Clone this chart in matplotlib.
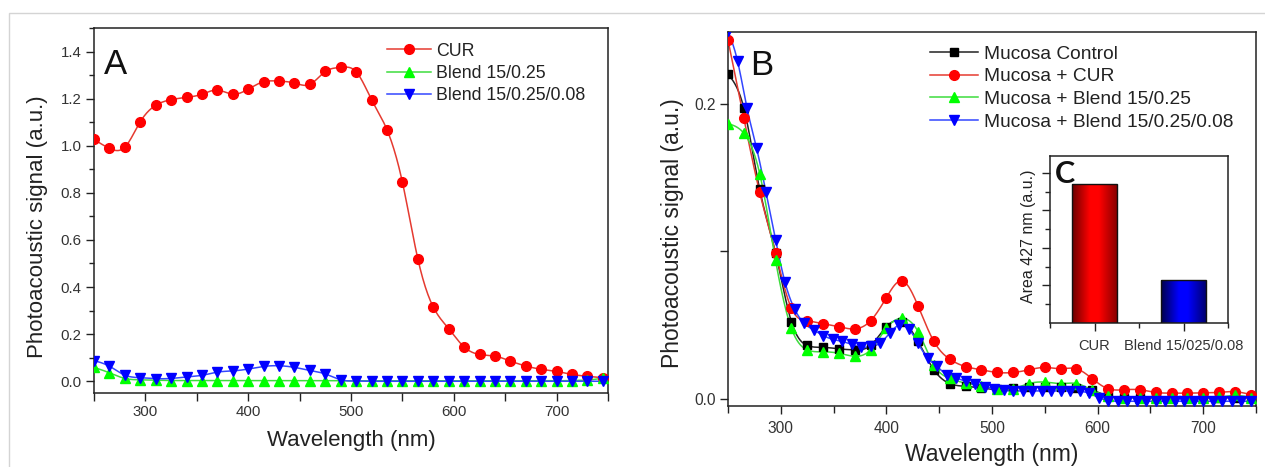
import numpy as np
import matplotlib
matplotlib.use("Agg")
import matplotlib.pyplot as plt
from matplotlib.colors import LinearSegmentedColormap
from matplotlib.patches import Rectangle

plt.rcParams['font.family'] = ['Liberation Sans', 'DejaVu Sans']

# ---------------------------------------------------
# Daten Panel A (Pulver)
# ---------------------------------------------------
wl_a = list(range(250, 750, 15))

cur_a = [1.028, 0.990, 0.995, 1.103, 1.173, 1.197, 1.207, 1.220, 1.238, 1.220,
         1.242, 1.273, 1.276, 1.268, 1.262, 1.317, 1.334, 1.316, 1.197, 1.069,
         0.846, 0.520, 0.315, 0.223, 0.145, 0.113, 0.106, 0.085, 0.064, 0.050,
         0.041, 0.028, 0.020, 0.014]

blend_a = [0.058, 0.035, 0.011, 0.005, 0.003, 0.002, 0.002, 0.002, 0.002, 0.002,
           0.002, 0.002, 0.002, 0.002, 0.002, 0.002, 0.001, 0.001, 0.001, 0.001,
           0.001, 0.001, 0.001, 0.001, 0.001, 0.001, 0.001, 0.001, 0.001, 0.001,
           0.001, 0.002, 0.004, 0.012]

blend_np_a = [0.087, 0.063, 0.025, 0.014, 0.010, 0.011, 0.017, 0.024, 0.038, 0.043,
              0.051, 0.062, 0.065, 0.058, 0.045, 0.030, 0.005, 0.000, -0.001, -0.001,
              -0.001, -0.001, -0.001, -0.001, -0.001, -0.001, -0.001, -0.001, -0.001, -0.001,
              -0.001, -0.001, -0.001, -0.001]

# ---------------------------------------------------
# Daten Panel B (Mukosa)
# ---------------------------------------------------
wl_b = list(range(250, 750, 15))
wl_b_blue = list(range(250, 750, 9))

muc_ctrl = [0.220, 0.197, 0.142, 0.099, 0.0525, 0.0363, 0.035, 0.034, 0.0333, 0.0363,
            0.049, 0.0525, 0.039, 0.0198, 0.0105, 0.0086, 0.0075, 0.0065, 0.0075, 0.008,
            0.008, 0.008, 0.0075, 0.006, 0.002, 0.001, 0.001, 0.0008, 0.0008, 0.0008,
            0.0008, 0.0008, 0.001, 0.0008]

muc_cur = [0.243, 0.190, 0.140, 0.099, 0.0615, 0.053, 0.051, 0.049, 0.0475, 0.053,
           0.0687, 0.080, 0.063, 0.039, 0.027, 0.022, 0.0198, 0.018, 0.018, 0.0198,
           0.0214, 0.0205, 0.0205, 0.0137, 0.007, 0.0063, 0.0063, 0.0045, 0.004, 0.004,
           0.0042, 0.0045, 0.005, 0.003]

muc_blend = [0.1865, 0.180, 0.1527, 0.094, 0.048, 0.0333, 0.032, 0.031, 0.029, 0.0333,
             0.048, 0.0547, 0.0457, 0.023, 0.014, 0.0108, 0.009, 0.0065, 0.007, 0.0105,
             0.0115, 0.0105, 0.0105, 0.006, 0.002, 0.001, 0.001, 0.001, 0.001, 0.001,
             0.001, 0.0012, 0.0025, 0.001]

muc_blend_np = [0.249, 0.229, 0.197, 0.170, 0.140, 0.108, 0.079, 0.061, 0.0514, 0.0468,
                0.043, 0.0405, 0.039, 0.037, 0.035, 0.0356, 0.0378, 0.0446, 0.050, 0.0475,
                0.0378, 0.0277, 0.0221, 0.0164, 0.0142, 0.012, 0.010, 0.0085, 0.0068, 0.0058,
                0.0055, 0.0055, 0.0055, 0.0055, 0.0055, 0.0055, 0.0055, 0.0052, 0.004, 0.001,
                -0.001, -0.0015, -0.0015, -0.0015, -0.0015, -0.0015, -0.0015, -0.0015, -0.0015, -0.0015,
                -0.0015, -0.0015, -0.0015, -0.0015, -0.0015, -0.0015]

# ---------------------------------------------------
# Daten Inset C (Flaeche bei 427 nm)
# ---------------------------------------------------
area_labels = ["CUR", "Blend 15/025/0.08"]
area_values = [3.70, 1.14]

RED, RED_L = "#ff0000", "#e53a30"
GREEN, GREEN_L = "#00ff00", "#3ddc3d"
BLUE, BLUE_L = "#0000ff", "#3346ff"
TXT = "#222222"


def spline(x, y, n=600):
    # natuerlicher kubischer Spline fuer die Verbindungslinie
    x = np.asarray(x, float)
    y = np.asarray(y, float)
    h = np.diff(x)
    N = len(x)
    A = np.zeros((N, N))
    r = np.zeros(N)
    A[0, 0] = 1.0
    A[-1, -1] = 1.0
    for i in range(1, N - 1):
        A[i, i - 1] = h[i - 1]
        A[i, i] = 2 * (h[i - 1] + h[i])
        A[i, i + 1] = h[i]
        r[i] = 6 * ((y[i + 1] - y[i]) / h[i] - (y[i] - y[i - 1]) / h[i - 1])
    M = np.linalg.solve(A, r)
    xs = np.linspace(x[0], x[-1], n)
    k = np.clip(np.searchsorted(x, xs) - 1, 0, N - 2)
    hk = h[k]
    a = x[k + 1] - xs
    b = xs - x[k]
    ys = (M[k] * a**3 + M[k + 1] * b**3) / (6 * hk) \
        + (y[k] / hk - M[k] * hk / 6) * a + (y[k + 1] / hk - M[k + 1] * hk / 6) * b
    return xs, ys


def series(ax, x, y, marker, mc, lc, label, ms):
    xs, ys = spline(x, y)
    ax.plot(xs, ys, '-', color=lc, lw=1.1, zorder=2)
    ax.plot(x, y, linestyle='none', marker=marker, ms=ms, mfc=mc, mec=mc, zorder=3)
    # Legendeneintrag mit Linie und Marker
    ax.plot([], [], '-', color=lc, lw=1.1, marker=marker, ms=ms, mfc=mc, mec=mc, label=label)


def style_axes(ax, fs):
    for s in ax.spines.values():
        s.set_linewidth(1.1)
        s.set_color("#222222")
    ax.tick_params(which='both', direction='out', width=1.0, colors="#222222",
                   labelcolor="#333333", labelsize=fs)
    ax.tick_params(which='major', length=6)
    ax.tick_params(which='minor', length=3.5)
    ax.tick_params(top=False, right=False)


fig = plt.figure(figsize=(12.65, 4.67), dpi=100)
W, H = 1265.0, 467.0


def px_axes(l, t, r, b):
    return fig.add_axes([l / W, (H - b) / H, (r - l) / W, (b - t) / H])


# Rahmen um die Abbildung
fig.add_artist(Rectangle((9 / W, -0.2), 1.2, (H - 13) / H + 0.2, transform=fig.transFigure,
                         fill=False, ec="#d4d4d4", lw=1.0))

# ---------------------------------------------------
# Panel A
# ---------------------------------------------------
axA = px_axes(94, 28, 608, 393)
series(axA, wl_a, cur_a, 'o', RED, RED_L, "CUR", 7)
series(axA, wl_a, blend_a, '^', GREEN, GREEN_L, "Blend 15/0.25", 7.5)
series(axA, wl_a, blend_np_a, 'v', BLUE, BLUE_L, "Blend 15/0.25/0.08", 7.5)
axA.set_xlim(250, 750)
axA.set_ylim(-0.051, 1.502)
axA.set_xticks([300, 400, 500, 600, 700])
axA.set_xticks(np.arange(250, 751, 50), minor=True)
axA.set_yticks(np.arange(0, 1.41, 0.2))
axA.set_yticks(np.arange(0, 1.51, 0.1), minor=True)
axA.yaxis.set_major_formatter(matplotlib.ticker.FormatStrFormatter('%.1f'))
style_axes(axA, 10.8)
axA.tick_params(which='minor', axis='x', length=6)
axA.tick_params(pad=3)
axA.set_xlabel("Wavelength (nm)", fontsize=16, color=TXT)
axA.set_ylabel("Photoacoustic signal (a.u.)", fontsize=16, color=TXT)
axA.xaxis.set_label_coords(0.5, -0.129)
axA.xaxis.label.set_va('center')
axA.yaxis.set_label_coords(-0.109, 0.457)
axA.yaxis.label.set_va('center')
axA.text(0.02, 0.874, "A", transform=axA.transAxes, fontsize=25, color="#111111",
         ha='left', va='baseline')
axA.legend(loc='upper left', bbox_to_anchor=(0.570, 0.960), frameon=False, fontsize=12.8,
           borderpad=0, borderaxespad=0, handlelength=2.45, handletextpad=0.3,
           labelspacing=0.3, labelcolor=TXT)

# ---------------------------------------------------
# Panel B
# ---------------------------------------------------
axB = px_axes(728, 32, 1256, 406)
series(axB, wl_b, muc_ctrl, 's', "#000000", "#222222", "Mucosa Control", 6)
series(axB, wl_b, muc_cur, 'o', RED, RED_L, "Mucosa + CUR", 7)
series(axB, wl_b, muc_blend, '^', GREEN, GREEN_L, "Mucosa + Blend 15/0.25", 7.5)
series(axB, wl_b_blue, muc_blend_np, 'v', BLUE, BLUE_L, "Mucosa + Blend 15/0.25/0.08", 7.5)
axB.set_xlim(250, 750)
axB.set_ylim(-0.0047, 0.2485)
axB.set_xticks([300, 400, 500, 600, 700])
axB.set_xticks(np.arange(250, 751, 50), minor=True)
axB.set_yticks([0.0, 0.1, 0.2])
axB.set_yticklabels(["0.0", "", "0.2"])
style_axes(axB, 11.2)
axB.tick_params(which='minor', axis='x', length=5)
axB.tick_params(axis='x', pad=5)
axB.tick_params(axis='y', pad=3)
axB.set_xlabel("Wavelength (nm)", fontsize=16.5, color=TXT)
axB.set_ylabel("Photoacoustic signal (a.u.)", fontsize=16.5, color=TXT)
axB.xaxis.set_label_coords(0.5, -0.131)
axB.xaxis.label.set_va('center')
axB.yaxis.set_label_coords(-0.106, 0.461)
axB.yaxis.label.set_va('center')
axB.text(0.042, 0.885, "B", transform=axB.transAxes, fontsize=25, color="#111111",
         ha='left', va='baseline')
axB.legend(loc='upper left', bbox_to_anchor=(0.3826, 0.964), frameon=False, fontsize=13.8,
           borderpad=0, borderaxespad=0, handlelength=2.5, handletextpad=0.3,
           labelspacing=0.27, labelcolor=TXT)

# ---------------------------------------------------
# Inset C: Balken mit Farbverlauf
# ---------------------------------------------------
axC = px_axes(1050, 156, 1228, 323)
pos = np.arange(len(area_values))
bars = axC.bar(pos, area_values, width=0.5, facecolor='none', edgecolor='#111111',
               lw=1.0, zorder=3)
grads = [["#6a0000", "#ff0000", "#ff0000", "#8a0000"],
         ["#00004a", "#0000ff", "#0000ff", "#000070"]]
g = np.linspace(0, 1, 256).reshape(1, -1)
for b, cols in zip(bars, grads):
    cmap = LinearSegmentedColormap.from_list("bar", list(zip([0, 0.4, 0.6, 1], cols)))
    axC.imshow(g, extent=[b.get_x(), b.get_x() + b.get_width(), 0, b.get_height()],
               aspect='auto', cmap=cmap, zorder=2)
axC.set_xlim(-0.5, 1.5)
axC.set_ylim(0, 4.45)
axC.set_xticks(pos)
axC.set_xticklabels(area_labels)
axC.set_xticks([-0.5, 0.5, 1.5], minor=True)
axC.set_yticks([1, 2, 3, 4])
axC.set_yticks(np.arange(0.5, 4.45, 1.0), minor=True)
axC.set_yticklabels([])
style_axes(axC, 10.5)
axC.tick_params(which='major', length=5.5)
axC.tick_params(which='minor', length=3.5)
axC.tick_params(axis='x', pad=6)
axC.set_ylabel("Area 427 nm (a.u.)", fontsize=11.5, color=TXT)
axC.yaxis.set_label_coords(-0.118, 0.518)
axC.yaxis.label.set_va('center')
axC.text(0.028, 0.838, "C", transform=axC.transAxes, fontsize=22, fontweight='bold',
         family=['Lato', 'DejaVu Sans'], color="#111111", ha='left', va='baseline')

fig.savefig("out.png", dpi=100)
